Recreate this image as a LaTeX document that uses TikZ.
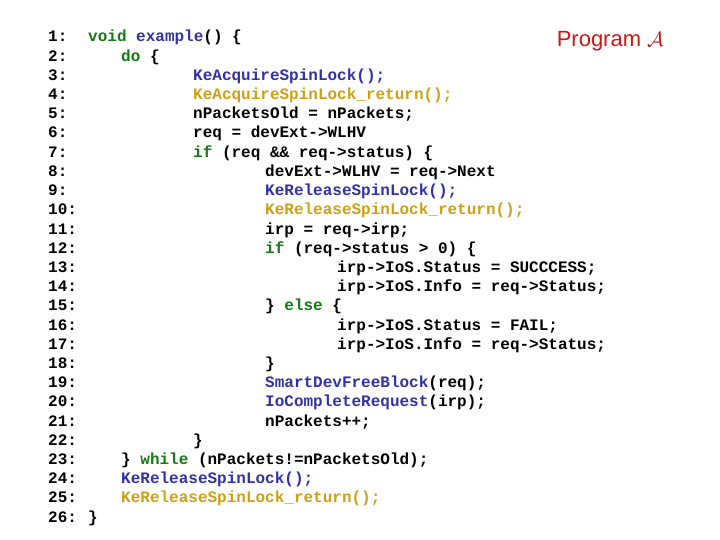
\documentclass[tikz,border=0pt]{standalone}
\usepackage{fontspec}
\setmonofont{Liberation Mono}
\setmainfont{Liberation Sans}
\definecolor{kw}{RGB}{20,120,20}
\definecolor{fn}{RGB}{50,50,160}
\definecolor{rt}{RGB}{205,160,20}
\definecolor{ttl}{RGB}{210,20,20}
\newcommand{\K}[1]{\textcolor{kw}{#1}}
\newcommand{\F}[1]{\textcolor{fn}{#1}}
\newcommand{\R}[1]{\textcolor{rt}{#1}}
\begin{document}
\begin{tikzpicture}[x=1pt,y=1pt,
  ln/.style={anchor=base west,inner sep=0pt,font=\ttfamily\bfseries\fontsize{16}{19}\selectfont},
  cd/.style={anchor=base west,inner sep=0pt,font=\ttfamily\bfseries\fontsize{16}{19}\selectfont}]
\useasboundingbox (0,0) rectangle (720,-540);
\newcommand{\Ln}[3]{%
  \node[ln] (n#1) at (48,{-42-19.2*(#1-1)}) {#1:};
  \node[cd] (c#1) at (#2,{-42-19.2*(#1-1)}) {#3};}
\Ln{1}{88}{\K{void} \F{example}() \{}
\Ln{2}{121}{\K{do} \{}
\Ln{3}{193}{\F{KeAcquireSpinLock();}}
\Ln{4}{193}{\R{KeAcquireSpinLock\_return();}}
\Ln{5}{193}{nPacketsOld = nPackets;}
\Ln{6}{193}{req = devExt->WLHV}
\Ln{7}{193}{\K{if} (req \&\& req->status) \{}
\Ln{8}{265}{devExt->WLHV = req->Next}
\Ln{9}{265}{\F{KeReleaseSpinLock();}}
\Ln{10}{265}{\R{KeReleaseSpinLock\_return();}}
\Ln{11}{265}{irp = req->irp;}
\Ln{12}{265}{\K{if} (req->status > 0) \{}
\Ln{13}{337}{irp->IoS.Status = SUCCCESS;}
\Ln{14}{337}{irp->IoS.Info = req->Status;}
\Ln{15}{265}{\} \K{else} \{}
\Ln{16}{337}{irp->IoS.Status = FAIL;}
\Ln{17}{337}{irp->IoS.Info = req->Status;}
\Ln{18}{265}{\}}
\Ln{19}{265}{\F{SmartDevFreeBlock}(req);}
\Ln{20}{265}{\F{IoCompleteRequest}(irp);}
\Ln{21}{265}{nPackets++;}
\Ln{22}{193}{\}}
\Ln{23}{121}{\} \K{while} (nPackets!=nPacketsOld);}
\Ln{24}{121}{\F{KeReleaseSpinLock();}}
\Ln{25}{121}{\R{KeReleaseSpinLock\_return();}}
\Ln{26}{88}{\}}
\node[anchor=east,inner sep=0pt,text=ttl,font=\fontsize{22}{24}\selectfont] (title) at (664,-41) {Program $\mathcal{A}$};
\end{tikzpicture}
\end{document}
